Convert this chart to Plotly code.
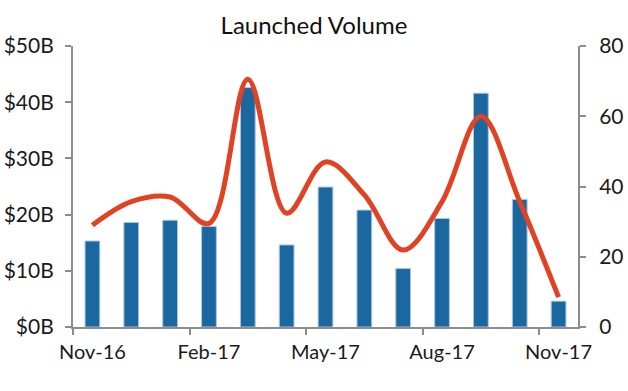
import plotly.graph_objects as go

months = ["Nov-16", "Dec-16", "Jan-17", "Feb-17", "Mar-17", "Apr-17", "May-17",
          "Jun-17", "Jul-17", "Aug-17", "Sep-17", "Oct-17", "Nov-17"]
volume_b = [15.3, 18.6, 19.0, 17.9, 42.6, 14.6, 24.9, 20.8, 10.4, 19.3, 41.6, 22.7, 4.6]
count = [29.0, 35.7, 37.0, 29.5, 70.5, 32.4, 47.0, 37.6, 21.9, 35.7, 60.0, 35.7, 8.5]

left_ticks = [0, 10, 20, 30, 40, 50]
left_labels = ["$0B", "$10B", "$20B", "$30B", "$40B", "$50B"]
right_ticks = [0, 20, 40, 60, 80]

FONT = "Lato"
AX = "#8c8c8c"

fig = go.Figure()
fig.add_trace(go.Bar(x=months, y=volume_b, width=0.38,
                     marker=dict(color="#1b67a0", line=dict(color="#a9c7e0", width=1)),
                     yaxis="y"))
fig.add_trace(go.Scatter(x=months, y=count, mode="lines",
                         line=dict(color="#e04323", width=5, shape="spline", smoothing=1.0),
                         yaxis="y2"))

fig.update_layout(
    width=628, height=391,
    margin=dict(l=73, r=50, t=46, b=64, autoexpand=False),
    paper_bgcolor="white", plot_bgcolor="white",
    showlegend=False,
    font=dict(family=FONT, size=21, color="#1a1a1a"),
    title=dict(text="Launched Volume", x=0.5, xanchor="center", y=0.935, yanchor="middle",
               font=dict(family=FONT, size=24, color="#111")),
    xaxis=dict(type="category", range=[-0.5, 12.5], dtick=3, tickson="boundaries",
               tickangle=0, automargin=False, ticklabelstandoff=6,
               ticks="outside", ticklen=6, tickcolor=AX, tickwidth=2,
               showline=True, linecolor=AX, linewidth=2, showgrid=False,
               tickfont=dict(size=20)),
    yaxis=dict(range=[0, 50], tickvals=left_ticks, ticktext=left_labels, automargin=False,
               ticklabelstandoff=7,
               ticks="outside", ticklen=6, tickcolor=AX, tickwidth=2,
               showline=True, linecolor=AX, linewidth=2, showgrid=False, zeroline=False,
               tickfont=dict(size=21)),
    yaxis2=dict(range=[0, 80], tickvals=right_ticks, overlaying="y", side="right",
                automargin=False, ticklabelstandoff=9,
                ticks="outside", ticklen=6, tickcolor=AX, tickwidth=2,
                showline=True, linecolor=AX, linewidth=2, showgrid=False, zeroline=False,
                tickfont=dict(size=21)),
)

fig.write_html("out.html", config={"displayModeBar": False},
               post_script="document.body.style.margin='0';document.body.style.overflow='hidden';")
